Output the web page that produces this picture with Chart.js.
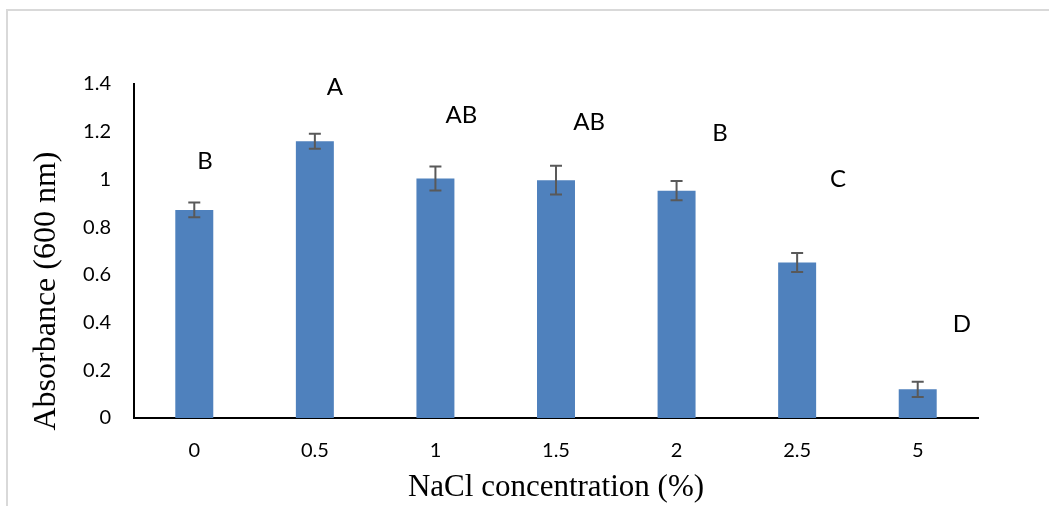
<!DOCTYPE html>
<html>
<head>
<meta charset="utf-8">
<script src="https://cdn.jsdelivr.net/npm/chart.js@4"></script>
<style>
  html, body { margin: 0; padding: 0; background: #fff; }
  canvas { display: block; }
</style>
</head>
<body>
<canvas id="chart" width="1049" height="506"></canvas>
<script>
// Valeurs
const categories = ['0', '0.5', '1', '1.5', '2', '2.5', '5'];
const absorbance = [0.872, 1.160, 1.004, 0.997, 0.953, 0.652, 0.120];
const errors = [0.031, 0.031, 0.050, 0.060, 0.040, 0.040, 0.032];
const letters = ['B', 'A', 'AB', 'AB', 'B', 'C', 'D'];
const letterY = [1.081, 1.392, 1.274, 1.247, 1.199, 1.004, 0.398];
const letterShift = [0.089, 0.167, 0.216, 0.274, 0.36, 0.339, 0.367];
const yTicks = [0, 0.2, 0.4, 0.6, 0.8, 1, 1.2, 1.4];

Chart.defaults.font.family = 'Lato';
Chart.defaults.color = '#000';

// Cadre, barres d'erreur, lettres et titres des axes
const decorations = {
    id: 'decorations',
    beforeDraw(chart) {
        const ctx = chart.ctx;
        ctx.save();
        ctx.strokeStyle = '#d9d9d9';
        ctx.lineWidth = 2;
        ctx.beginPath();
        ctx.moveTo(7, chart.height);
        ctx.lineTo(7, 10);
        ctx.lineTo(chart.width, 10);
        ctx.stroke();
        ctx.restore();
    },
    afterDatasetsDraw(chart) {
        const ctx = chart.ctx;
        const xs = chart.scales.x;
        const ys = chart.scales.y;
        const area = chart.chartArea;
        const meta = chart.getDatasetMeta(0);

        ctx.save();
        ctx.strokeStyle = '#595959';
        ctx.lineWidth = 2;
        meta.data.forEach((bar, i) => {
            const top = ys.getPixelForValue(absorbance[i] + errors[i]);
            const bot = ys.getPixelForValue(absorbance[i] - errors[i]);
            ctx.beginPath();
            ctx.moveTo(bar.x, top);
            ctx.lineTo(bar.x, bot);
            ctx.moveTo(bar.x - 6, top);
            ctx.lineTo(bar.x + 6, top);
            ctx.moveTo(bar.x - 6, bot);
            ctx.lineTo(bar.x + 6, bot);
            ctx.stroke();
        });

        const step = xs.getPixelForValue(1) - xs.getPixelForValue(0);
        ctx.fillStyle = '#000';
        ctx.font = '24px Lato';
        ctx.textAlign = 'center';
        ctx.textBaseline = 'alphabetic';
        letters.forEach((l, i) => {
            const px = xs.getPixelForValue(i) + letterShift[i] * step;
            const py = ys.getPixelForValue(letterY[i]) + 9;
            ctx.fillText(l, px, py);
        });

        ctx.font = '31px "Liberation Serif"';
        ctx.fillText('NaCl concentration (%)', (area.left + area.right) / 2, 496);

        ctx.font = '32px "Liberation Serif"';
        ctx.translate(55, (area.top + area.bottom) / 2 + 40);
        ctx.rotate(-Math.PI / 2);
        ctx.fillText('Absorbance (600 nm)', 0, 0);
        ctx.restore();
    }
};

new Chart(document.getElementById('chart'), {
    type: 'bar',
    data: {
        labels: categories,
        datasets: [{
            data: absorbance,
            backgroundColor: '#4f81bd',
            borderWidth: 0,
            barPercentage: 0.315,
            categoryPercentage: 1
        }]
    },
    options: {
        responsive: false,
        devicePixelRatio: 1,
        animation: false,
        layout: { padding: { top: 84, right: 71, left: 0, bottom: 0 } },
        plugins: {
            legend: { display: false },
            tooltip: { enabled: false }
        },
        scales: {
            x: {
                grid: { display: false, drawTicks: false },
                border: { display: true, color: '#000', width: 2 },
                ticks: { padding: 21, font: { size: 20 } },
                afterFit: s => { s.height = 88; }
            },
            y: {
                min: 0,
                max: 1.4,
                grid: { display: false, drawTicks: false },
                border: { display: true, color: '#000', width: 2 },
                ticks: { padding: 23, font: { size: 20 }, callback: v => String(v) },
                afterBuildTicks: s => { s.ticks = yTicks.map(v => ({ value: v })); },
                afterFit: s => { s.width = 134; }
            }
        }
    },
    plugins: [decorations]
});
</script>
</body>
</html>
